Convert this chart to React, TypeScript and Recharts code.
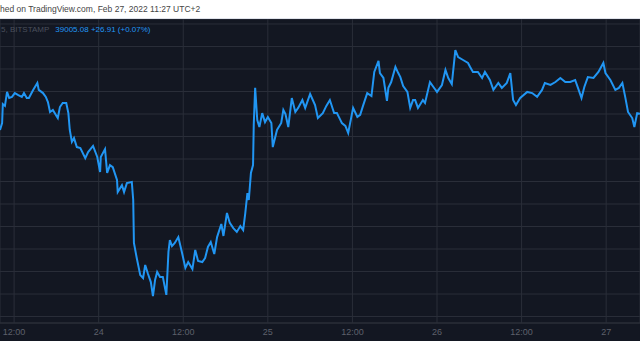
import { CartesianGrid, Line, LineChart, XAxis, YAxis } from "recharts";

const BG = "#131722";
const GRID = "#2a2e39";
const LINE = "#2196f3";
const TICK = "#5d606b";

// hours since Feb 23 00:00
const hours = [
  10.0, 10.3, 10.4, 10.7, 11.0, 11.3, 11.7, 12.1, 12.6, 13.1, 13.4, 13.8, 14.1, 14.7, 15.3, 15.5,
  16.1, 16.5, 16.8, 17.1, 17.5, 18.1, 18.2, 18.5, 18.9, 19.4, 19.7, 19.9, 20.2, 20.5, 20.9, 21.4,
  22.1, 22.5, 23.2, 23.8, 24.2, 24.3, 24.9, 25.2, 25.6, 26.0, 26.6, 26.7, 27.3, 27.6, 28.0, 28.7,
  28.9, 29.0, 29.4, 29.9, 30.3, 30.6, 31.0, 31.4, 31.7, 32.0, 32.3, 32.7, 33.1, 33.6, 33.9, 34.1,
  34.4, 34.8, 35.3, 35.8, 36.3, 36.7, 37.3, 37.7, 38.1, 38.7, 39.1, 39.5, 39.9, 40.4, 40.8, 41.4,
  41.7, 42.2, 42.6, 43.1, 43.6, 44.1, 44.5, 44.8, 45.1, 45.3, 45.6, 45.9, 46.0, 46.2, 46.5, 46.8,
  47.2, 47.6, 48.0, 48.5, 48.7, 49.3, 49.9, 50.2, 50.5, 50.9, 51.4, 51.9, 52.3, 52.9, 53.3, 54.0,
  54.7, 55.1, 55.8, 56.3, 56.8, 57.4, 57.8, 58.3, 58.5, 59.0, 59.4, 60.1, 60.7, 61.1, 61.5, 62.1,
  62.7, 63.1, 63.7, 63.9, 64.4, 64.9, 65.1, 65.5, 66.1, 66.5, 66.8, 67.2, 67.8, 68.2, 68.6, 68.9,
  69.3, 70.0, 70.3, 71.0, 71.7, 72.0, 72.7, 73.2, 73.6, 74.1, 74.6, 75.0, 75.7, 76.4, 76.7, 77.1,
  77.8, 78.4, 78.8, 79.5, 80.0, 80.7, 81.2, 81.9, 82.4, 82.8, 83.2, 83.8, 84.8, 85.5, 86.2, 86.9,
  87.3, 88.1, 88.8, 89.5, 90.2, 90.9, 91.6, 92.0, 92.5, 92.9, 93.4, 94.2, 94.9, 95.6, 95.9, 96.6,
  97.3, 97.8, 98.3, 98.7, 99.1, 99.7, 100.0, 100.4, 100.8,
];

const prices = [
  38645, 38800, 39220, 39180, 39490, 39355, 39380, 39465, 39420, 39380, 39465, 39355, 39355, 39535, 39690, 39535,
  39465, 39380, 39265, 39045, 39090, 38935, 38910, 39155, 39245, 39245, 39020, 38645, 38380, 38465, 38265, 38245,
  38020, 38155, 38290, 38045, 37710, 38045, 38220, 37690, 37865, 37820, 37535, 37265, 37420, 37265, 37465, 37490,
  37090, 36135, 35800, 35420, 35355, 35645, 35445, 35265, 34955, 35310, 35490, 35380, 35380, 34980, 35935, 36200,
  36065, 36135, 36265, 35935, 35580, 35710, 35555, 35980, 35735, 35710, 35800, 36045, 36155, 35890, 36265, 36555,
  36290, 36800, 36580, 36465, 36380, 36510, 36420, 36800, 37245, 37090, 37690, 37865, 38755, 39580, 38865, 38710,
  39020, 38820, 38935, 38800, 38265, 38645, 38800, 39090, 39000, 38710, 39355, 39045, 39135, 39310, 39135, 39445,
  39200, 38910, 39020, 39180, 39310, 39020, 39020, 38865, 38800, 38735, 38580, 39135, 38935, 38980, 39180, 39465,
  39400, 39935, 40180, 39910, 39800, 39290, 39580, 39710, 40045, 39910, 39820, 39620, 39490, 39135, 39310, 39310,
  39135, 39310, 39245, 39710, 39555, 39490, 39645, 39980, 39800, 39665, 40420, 40265, 40200, 40135, 40045, 39935,
  39935, 39800, 39935, 39755, 39535, 39690, 39580, 39690, 39910, 39310, 39200, 39355, 39490, 39465, 39380, 39535,
  39690, 39645, 39710, 39800, 39710, 39710, 39755, 39580, 39355, 39600, 39820, 39800, 39935, 40135, 39910, 39755,
  39535, 39580, 39690, 39380, 39045, 38910, 38710, 39020, 39005,
];

const tickHours = [12, 24, 36, 48, 60, 72, 84, 96];
const tickLabels = ["12:00", "24", "12:00", "25", "12:00", "26", "12:00", "27"];
const priceTicks = [34500, 35000, 35500, 36000, 36500, 37000, 37500, 38000, 38500, 39000, 39500, 40000, 40500, 41000];

const data = hours.map((t, i) => ({ t, price: prices[i] }));

function HourTick({ x, y, payload }: { x?: number; y?: number; payload?: { value: number } }) {
  const idx = tickHours.indexOf(payload?.value ?? -1);
  return (
    <text x={x} y={(y ?? 0) + 10} textAnchor="middle" fill={TICK} fontSize={9} fontFamily="Liberation Sans, Arial, sans-serif">
      {tickLabels[idx]}
    </text>
  );
}

export default function App() {
  return (
    <div style={{ position: "absolute", left: 0, top: 0, width: 640, height: 360, background: "#fff", overflow: "hidden", fontFamily: "Liberation Sans, Arial, sans-serif" }}>
      <div style={{ position: "absolute", left: 0, top: 4, fontSize: 8.5, color: "#444", whiteSpace: "nowrap" }}>
        hed on TradingView.com, Feb 27, 2022 11:27 UTC+2
      </div>
      <div style={{ position: "absolute", left: 0, top: 18, width: 640, height: 1, background: "#e0e3eb" }} />
      <div style={{ position: "absolute", left: 0, top: 19, width: 640, height: 322, background: BG }}>
        <LineChart width={640} height={322} data={data} margin={{ top: 0, right: 0, left: 0, bottom: 0 }}>
          <CartesianGrid stroke={GRID} strokeWidth={1} />
          <XAxis
            dataKey="t"
            type="number"
            domain={[10, 100.8]}
            ticks={tickHours}
            interval={0}
            height={18}
            tick={<HourTick />}
            tickLine={false}
            tickSize={0}
            axisLine={{ stroke: GRID }}
            allowDataOverflow
          />
          <YAxis hide domain={[34356, 41111]} ticks={priceTicks} interval={0} allowDataOverflow />
          <Line
            dataKey="price"
            type="linear"
            stroke={LINE}
            strokeWidth={2}
            dot={false}
            isAnimationActive={false}
          />
        </LineChart>
        <div style={{ position: "absolute", left: 1, top: 6, fontSize: 8, whiteSpace: "nowrap" }}>
          <span style={{ color: "#4a4f5c" }}>5, BITSTAMP</span>
          <span style={{ color: LINE, marginLeft: 6 }}>39005.08 +26.91 (+0.07%)</span>
        </div>
      </div>
    </div>
  );
}
